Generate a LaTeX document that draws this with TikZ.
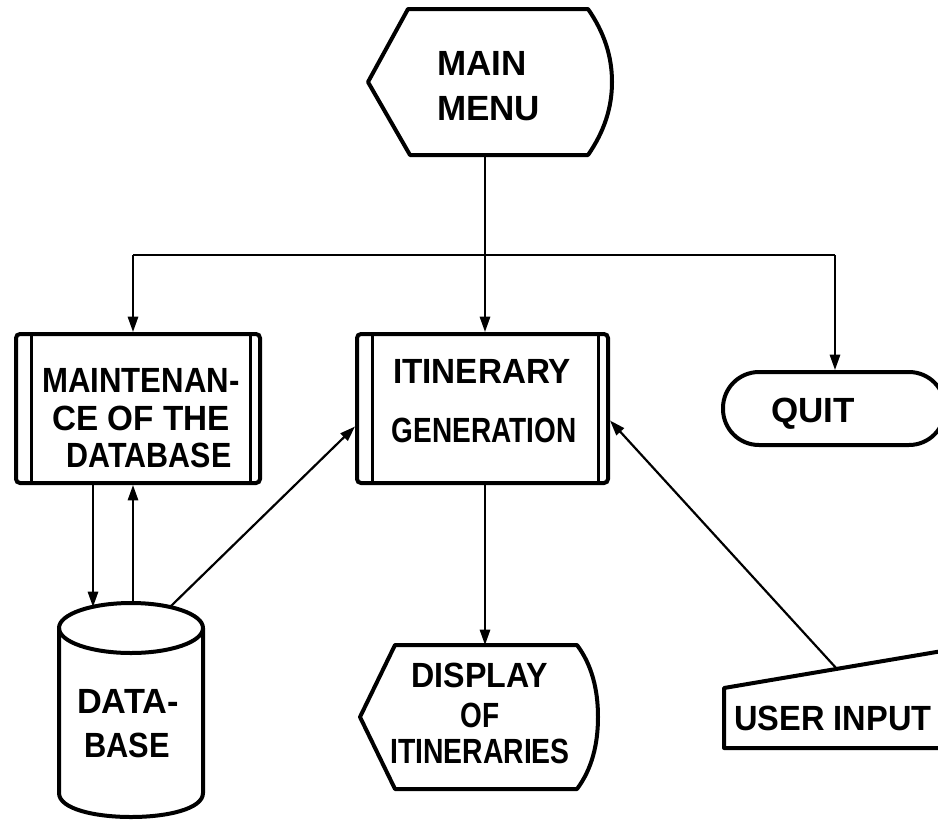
\documentclass[tikz,border=0pt]{standalone}
\usepackage{fontspec}
\setmainfont{Liberation Sans}
\usetikzlibrary{arrows.meta,calc}
% horizontally squeezed line of lettering
\newcommand{\lbl}[2]{\scalebox{#1}[1]{#2}}

\begin{document}
\begin{tikzpicture}[x=1pt,y=-1pt,
  outline/.style={line width=4pt, line join=round},
  inner/.style={line width=3pt},
  link/.style={line width=2.2pt},
  flow/.style={line width=2.2pt, -{Triangle[length=9pt,width=6pt,scale=1.7]}},
  holder/.style={draw=none, inner sep=0pt, outer sep=0pt},
  procbox/.style={draw, line width=4pt, rounded corners=4pt, inner sep=0pt},
  txt/.style={font=\fontsize{35}{40}\selectfont\bfseries, inner sep=0pt, anchor=base}
]
\useasboundingbox (0,0) rectangle (938,820);
\clip (0,0) rectangle (938,820);

% ---- main menu (display symbol) ----
\node[holder, minimum width=234pt, minimum height=145pt] (main) at (485,82) {};
\draw[outline] (408,9) -- (588,9)
  .. controls (604,32) and (612,56) .. (612,82)
  .. controls (612,108) and (604,132) .. (588,155)
  -- (410,155) -- (368,82) -- cycle;
\node[txt, anchor=base west] (mainA) at (437,75) {MAIN};
\node[txt, anchor=base west] (mainB) at (437,120) {MENU};

% ---- maintenance (predefined process) ----
\node[procbox, minimum width=244pt, minimum height=149pt] (maint) at (138,408.5) {};
\draw[inner] ($(maint.north west)+(17,2)$) -- ($(maint.south west)+(17,-2)$);
\draw[inner] ($(maint.north east)+(-12,2)$) -- ($(maint.south east)+(-12,-2)$);
\node[txt] (maintA) at (141,392) {\lbl{0.89}{MAINTENAN-}};
\node[txt] (maintB) at (141,430) {\lbl{0.95}{CE OF THE}};
\node[txt] (maintC) at (149,467) {\lbl{0.87}{DATABASE}};

% ---- itinerary generation (predefined process) ----
\node[procbox, minimum width=251pt, minimum height=149pt] (itin) at (482.5,408.5) {};
\draw[inner] ($(itin.north west)+(17,2)$) -- ($(itin.south west)+(17,-2)$);
\draw[inner] ($(itin.north east)+(-12,2)$) -- ($(itin.south east)+(-12,-2)$);
\node[txt] (itinA) at (482,383) {\lbl{0.95}{ITINERARY}};
\node[txt] (itinB) at (484,442) {\lbl{0.80}{GENERATION}};

% ---- quit (terminal) ----
\node[draw, line width=4pt, rounded corners=36pt, inner sep=0pt,
      minimum width=222pt, minimum height=73pt] (quit) at (834,408.5) {};
\node[txt] (quitA) at (813,422) {QUIT};

% ---- database (cylinder) ----
\node[holder, minimum width=144pt, minimum height=214pt] (db) at (131,710) {};
\draw[outline] (59,628) -- (59,793)
  .. controls (59,825) and (203,825) .. (203,793) -- (203,628);
\draw[outline] (131,628) ellipse[x radius=72, y radius=25];
\node[txt] (dbA) at (128,713) {\lbl{0.98}{DATA-}};
\node[txt] (dbB) at (127,757) {\lbl{0.88}{BASE}};
\coordinate (dbIn)  at (93,607);
\coordinate (dbOut) at (133,603);
\coordinate (dbRt)  at (170,607);

% ---- display of itineraries (display symbol) ----
\node[holder, minimum width=238pt, minimum height=144pt] (disp) at (479,717) {};
\draw[outline] (395,645) -- (577,645)
  .. controls (592,665) and (598,690) .. (598,717)
  .. controls (598,744) and (592,769) .. (577,789)
  -- (395,789) -- (360,717) -- cycle;
\node[txt] (dispA) at (480,687) {\lbl{0.92}{DISPLAY}};
\node[txt] (dispB) at (480,727) {\lbl{0.80}{OF}};
\node[txt] (dispC) at (480,763) {\lbl{0.81}{ITINERARIES}};

% ---- user input (manual input) ----
\node[holder, minimum width=226pt, minimum height=60pt] (uin) at (837,718) {};
\draw[outline] (724,688) -- (960,648) -- (960,748) -- (724,748) -- cycle;
\node[txt] (uinA) at (833,730) {\lbl{0.93}{USER INPUT}};
\coordinate (uinTop) at (837,669);

% ---- connectors ----
\coordinate (busL) at (133,255);
\coordinate (busR) at (835,255);
\draw[flow] (main.south) -- (main.south |- itin.north);
\draw[link, line width=2.8pt] (busL) -- (busR);
\draw[flow] (busL) -- (busL |- maint.north);
\draw[flow] (busR) -- (busR |- quit.north);
\draw[flow] (maint.south -| dbIn) -- (dbIn);
\draw[flow] (dbOut) -- (maint.south -| dbOut);
\draw[flow] (dbRt) -- ($(itin.west)+(0,18)$);
\draw[flow] (uinTop) -- ($(itin.east)+(0,12)$);
\draw[flow] (main.south |- itin.south) -- (main.south |- disp.north);
\end{tikzpicture}
\end{document}
